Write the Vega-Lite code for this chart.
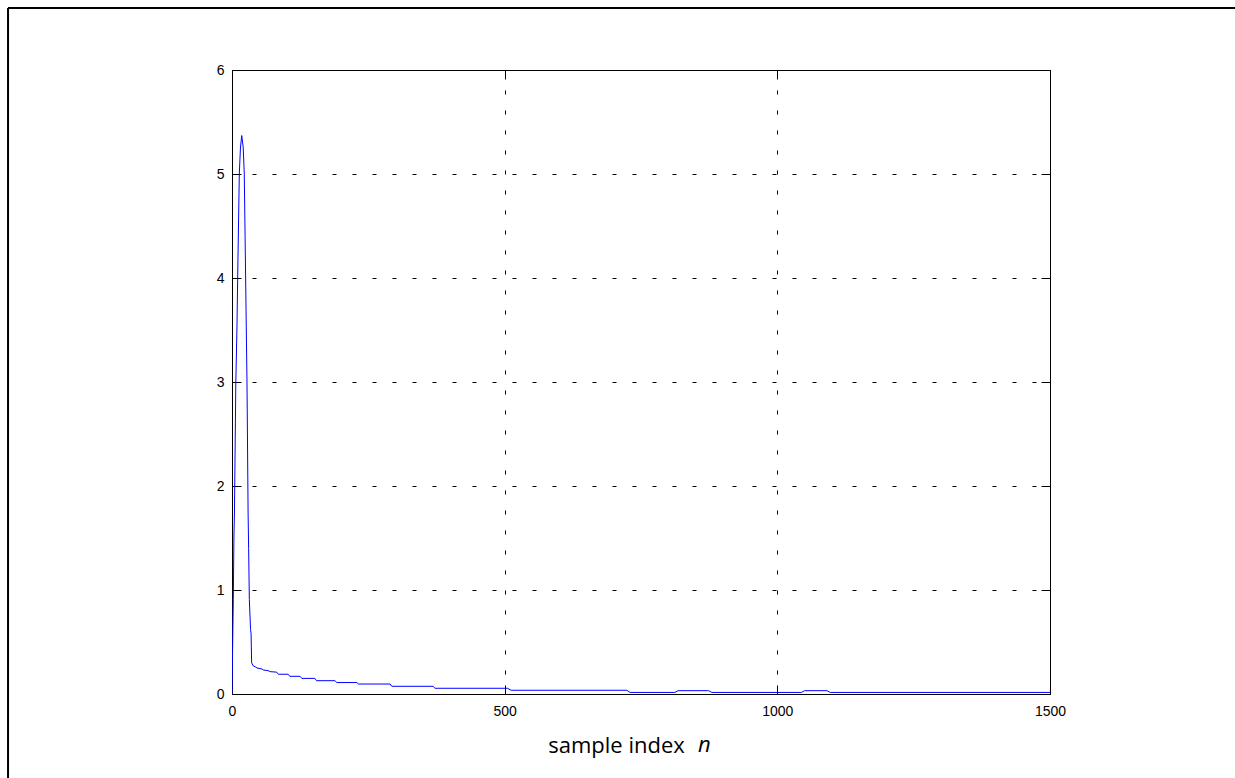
{
  "$schema": "https://vega.github.io/schema/vega-lite/v6.json",
  "width": 818,
  "height": 624,
  "autosize": "none",
  "padding": {"left": 232, "top": 70, "right": 185, "bottom": 84},
  "background": "white",
  "config": {
    "view": {"stroke": "black", "strokeWidth": 1},
    "axis": {
      "labelFont": "Liberation Sans",
      "labelFontSize": 14,
      "labelColor": "black",
      "labelFlush": false,
      "domain": false,
      "tickColor": "black",
      "tickSize": -9,
      "tickWidth": 1,
      "gridColor": "black",
      "gridDash": [4, 16],
      "gridWidth": 1,
      "gridOpacity": 1
    }
  },
  "layer": [
    {
      "data": {
        "values": [
          {"n": 0, "v": 0},
          {"n": 1, "v": 0.4},
          {"n": 2.4, "v": 0.91},
          {"n": 3.5, "v": 1.5},
          {"n": 4.5, "v": 1.75},
          {"n": 7, "v": 3.0},
          {"n": 9, "v": 3.5},
          {"n": 11, "v": 4.2},
          {"n": 13.4, "v": 5.0},
          {"n": 15.5, "v": 5.25},
          {"n": 17.8, "v": 5.37},
          {"n": 20.5, "v": 5.26},
          {"n": 22.5, "v": 5.0},
          {"n": 24, "v": 4.4},
          {"n": 27.5, "v": 3.0},
          {"n": 29.5, "v": 1.75},
          {"n": 30.5, "v": 1.4},
          {"n": 31.8, "v": 0.91},
          {"n": 34, "v": 0.62},
          {"n": 35, "v": 0.58},
          {"n": 36, "v": 0.3},
          {"n": 39, "v": 0.27},
          {"n": 43, "v": 0.26},
          {"n": 46, "v": 0.25},
          {"n": 55, "v": 0.24},
          {"n": 58, "v": 0.23},
          {"n": 66, "v": 0.225},
          {"n": 70, "v": 0.215},
          {"n": 82, "v": 0.21},
          {"n": 85, "v": 0.19},
          {"n": 103, "v": 0.19},
          {"n": 106, "v": 0.17},
          {"n": 125, "v": 0.17},
          {"n": 128, "v": 0.15},
          {"n": 152, "v": 0.15},
          {"n": 155, "v": 0.128},
          {"n": 189, "v": 0.128},
          {"n": 192, "v": 0.11},
          {"n": 229, "v": 0.11},
          {"n": 232, "v": 0.096},
          {"n": 290, "v": 0.096},
          {"n": 293, "v": 0.074},
          {"n": 369, "v": 0.074},
          {"n": 372, "v": 0.055},
          {"n": 505, "v": 0.055},
          {"n": 512, "v": 0.036},
          {"n": 724, "v": 0.036},
          {"n": 730, "v": 0.015},
          {"n": 812, "v": 0.015},
          {"n": 818, "v": 0.032},
          {"n": 874, "v": 0.032},
          {"n": 880, "v": 0.015},
          {"n": 1044, "v": 0.015},
          {"n": 1050, "v": 0.032},
          {"n": 1091, "v": 0.032},
          {"n": 1097, "v": 0.015},
          {"n": 1500, "v": 0.015}
        ]
      },
      "mark": {"type": "line", "color": "#0000ff", "strokeWidth": 1, "clip": true},
      "encoding": {
        "x": {
          "field": "n",
          "type": "quantitative",
          "scale": {"domain": [0, 1500], "nice": false, "zero": false},
          "axis": {
            "orient": "bottom",
            "values": [0, 500, 1000, 1500],
            "format": "d",
            "grid": true,
            "labelPadding": 19,
            "title": "sample index",
            "titleFont": "Open Sans",
            "titleFontSize": 22,
            "titleFontWeight": "normal",
            "titleColor": "black",
            "titleX": 384,
            "titleY": 51,
            "titleAlign": "center",
            "titleBaseline": "middle",
            "titleAnchor": null
          }
        },
        "y": {
          "field": "v",
          "type": "quantitative",
          "scale": {"domain": [0, 6], "nice": false},
          "axis": {
            "orient": "left",
            "values": [0, 1, 2, 3, 4, 5, 6],
            "format": "d",
            "grid": true,
            "labelPadding": 17,
            "title": null
          }
        }
      }
    },
    {
      "data": {"values": [{}]},
      "mark": {"type": "rule", "color": "black", "strokeWidth": 2, "clip": false},
      "encoding": {
        "x": {"datum": -410.7, "type": "quantitative", "axis": null},
        "y": {"datum": 6.596, "type": "quantitative", "axis": null},
        "y2": {"datum": -0.9}
      }
    },
    {
      "data": {"values": [{}]},
      "mark": {"type": "rule", "color": "black", "strokeWidth": 2, "clip": false},
      "encoding": {
        "y": {"datum": 6.596, "type": "quantitative", "axis": null},
        "x": {"datum": -410.7, "type": "quantitative", "axis": null},
        "x2": {"datum": 1845}
      }
    },
    {
      "data": {"values": [{}]},
      "mark": {"type": "text", "text": "n", "font": "Open Sans", "fontSize": 22, "fontStyle": "italic", "color": "black", "align": "center", "baseline": "middle", "clip": false},
      "encoding": {
        "x": {
          "datum": 866,
          "type": "quantitative",
          "axis": {"orient": "top", "values": [0, 500, 1000, 1500], "labels": false, "grid": false, "title": null}
        },
        "y": {
          "datum": -0.49,
          "type": "quantitative",
          "axis": {"orient": "right", "values": [0, 1, 2, 3, 4, 5, 6], "labels": false, "grid": false, "title": null}
        }
      }
    }
  ],
  "resolve": {"axis": {"x": "independent", "y": "independent"}}
}
